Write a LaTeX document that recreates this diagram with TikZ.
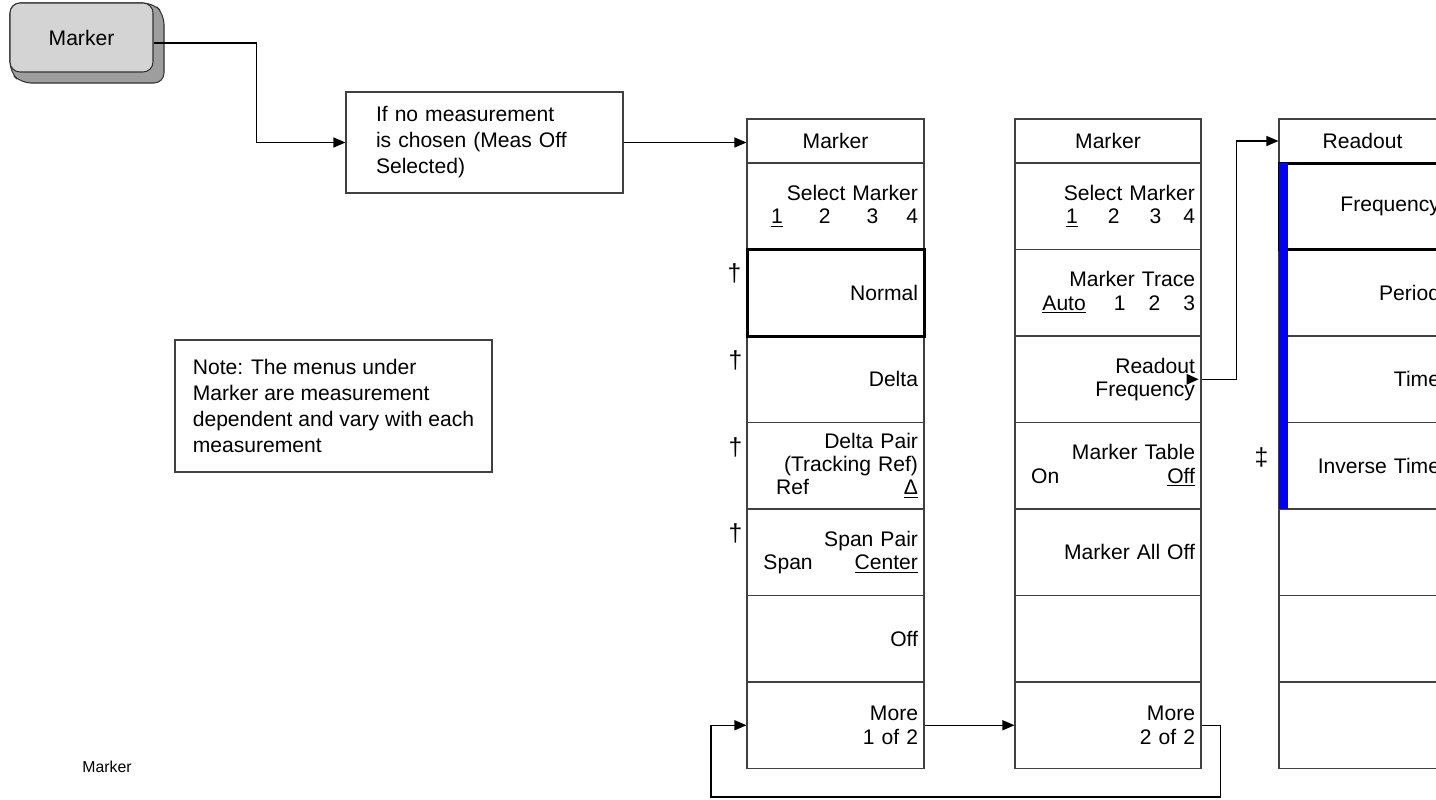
\documentclass[tikz,border=0pt]{standalone}
\usepackage{fontspec}
\setmainfont{Liberation Sans}
\usetikzlibrary{arrows.meta, positioning, calc}

\begin{document}
\begin{tikzpicture}[
    softkey/.style={rectangle, draw=black!75, line width=0.6pt, minimum height=1.73cm, inner xsep=0.12cm, inner ysep=0pt, align=right, font=\fontsize{12}{13.2}\selectfont},
    keyA/.style={softkey, text width=3.30cm},
    keyB/.style={softkey, text width=3.48cm},
    keyC/.style={softkey, text width=3.10cm},
    menuhdr/.style={minimum height=0.88cm, align=center},
    active/.style={draw=black, line width=1.7pt},
    textbox/.style={rectangle, draw=black!75, line width=0.6pt, align=left, font=\fontsize{12}{14.8}\selectfont},
    hardkey/.style={rectangle, rounded corners=0.2cm, draw=black!80, line width=0.6pt, fill=black!17, minimum width=2.86cm, minimum height=1.38cm, font=\fontsize{12}{14}\selectfont},
    dagmark/.style={inner sep=0pt, font=\fontsize{14}{15}\selectfont},
    arr/.style={-{Triangle[length=0.24cm, width=0.2cm]}, line width=0.6pt}
]
\useasboundingbox (0,0) rectangle (28.72,-15.98);
\clip (0,0) rectangle (28.72,-15.98);

% front panel key
\draw[fill=black!38, draw=black!80, line width=0.6pt, rounded corners=0.2cm] (3.06,-0.06) -- (3.28,-0.28) -- (3.28,-1.66) -- (0.42,-1.66) -- (0.2,-1.44) -- (0.2,-0.06) -- cycle;
\node[hardkey] (key) at (1.63,-0.75) {Marker};

\node[textbox, text width=4.34cm, minimum width=5.54cm, minimum height=2.02cm, inner xsep=0.6cm] (ifbox) at (9.69,-2.85) {If no measurement\\is chosen (Meas Off\\Selected)};
\node[textbox, minimum width=6.34cm, minimum height=2.64cm] (note) at (6.67,-8.12) {Note: The menus under\\Marker are measurement\\dependent and vary with each\\measurement};
\node[font=\fontsize{9}{10}\selectfont] (figlabel) at (2.14,-15.34) {Marker};

% first Marker menu
\node[keyA, menuhdr] (c1hdr) at (16.71,-2.82) {Marker};
\node[keyA] (c1r0) at (16.71,-4.125) {Select Marker\\\underline{1}\hspace{0.72cm}2\hspace{0.72cm}3\hspace{0.56cm}4};
\node[keyA] (c1r2) at (16.71,-7.585) {Delta};
\node[keyA, active] (c1r1) at (16.71,-5.855) {Normal};
\node[keyA] (c1r3) at (16.71,-9.315) {Delta Pair\\(Tracking Ref)\\Ref\hspace{1.9cm}\underline{Δ}};
\node[keyA] (c1r4) at (16.71,-11.045) {Span Pair\\Span\hspace{0.84cm}\underline{Center}};
\node[keyA] (c1r5) at (16.71,-12.775) {Off};
\node[keyA] (c1r6) at (16.71,-14.505) {More\\1 of 2};

\node[dagmark] (dg1) at ([xshift=-0.22cm, yshift=-0.5cm]c1r1.north west) {\textdagger};
\node[dagmark] (dg2) at ([xshift=-0.22cm, yshift=-0.5cm]c1r2.north west) {\textdagger};
\node[dagmark] (dg3) at ([xshift=-0.22cm, yshift=-0.5cm]c1r3.north west) {\textdagger};
\node[dagmark] (dg4) at ([xshift=-0.22cm, yshift=-0.5cm]c1r4.north west) {\textdagger};

% second Marker menu
\node[keyB, menuhdr] (c2hdr) at (22.16,-2.82) {Marker};
\node[keyB] (c2r0) at (22.16,-4.125) {Select Marker\\\underline{1}\hspace{0.6cm}2\hspace{0.6cm}3\hspace{0.44cm}4};
\node[keyB] (c2r1) at (22.16,-5.855) {Marker Trace\\\underline{Auto}\hspace{0.56cm}1\hspace{0.46cm}2\hspace{0.46cm}3};
\node[keyB] (c2r2) at (22.16,-7.585) {Readout\hspace*{0.24cm}\\Frequency\hspace*{0.24cm}};
\node[keyB] (c2r3) at (22.16,-9.315) {Marker Table\\On\hspace{2.16cm}\underline{Off}};
\node[keyB] (c2r4) at (22.16,-11.045) {Marker All Off};
\node[keyB] (c2r5) at (22.16,-12.775) {};
\node[keyB] (c2r6) at (22.16,-14.505) {More\\2 of 2};
\fill ([xshift=-0.06cm]c2r2.east) -- ++(-0.24,0.11) -- ++(0,-0.22) -- cycle;

% Readout menu
\node[keyC, menuhdr] (c3hdr) at (27.25,-2.82) {Readout};
\node[keyC] (c3r1) at (27.25,-5.855) {Period};
\node[keyC, active] (c3r0) at (27.25,-4.125) {Frequency};
\node[keyC] (c3r2) at (27.25,-7.585) {Time};
\node[keyC] (c3r3) at (27.25,-9.315) {Inverse Time};
\node[keyC] (c3r4) at (27.25,-11.045) {};
\node[keyC] (c3r5) at (27.25,-12.775) {};
\node[keyC] (c3r6) at (27.25,-14.505) {};
\fill[blue] (25.58,-3.26) rectangle (25.76,-10.18);
\node[dagmark] (dg5) at ([xshift=-0.34cm, yshift=0.16cm]c3r3.west) {\textdaggerdbl};

\coordinate (loopbot) at (14.22,-15.94);

\draw[arr] ([yshift=-0.11cm]key.east) -| ([xshift=-1.78cm]ifbox.west) -- (ifbox.west);
\draw[arr] (ifbox.east) -- (ifbox.east -| c1hdr.west);
\draw[arr] (c2r2.east) -| ([xshift=-0.84cm]c3hdr.west) -- (c3hdr.west);
\draw[arr] (c1r6.east) -- (c2r6.west);
\draw[arr] (c2r6.east) -- ++(0.38,0) |- (loopbot) |- (c1r6.west);
\end{tikzpicture}
\end{document}
